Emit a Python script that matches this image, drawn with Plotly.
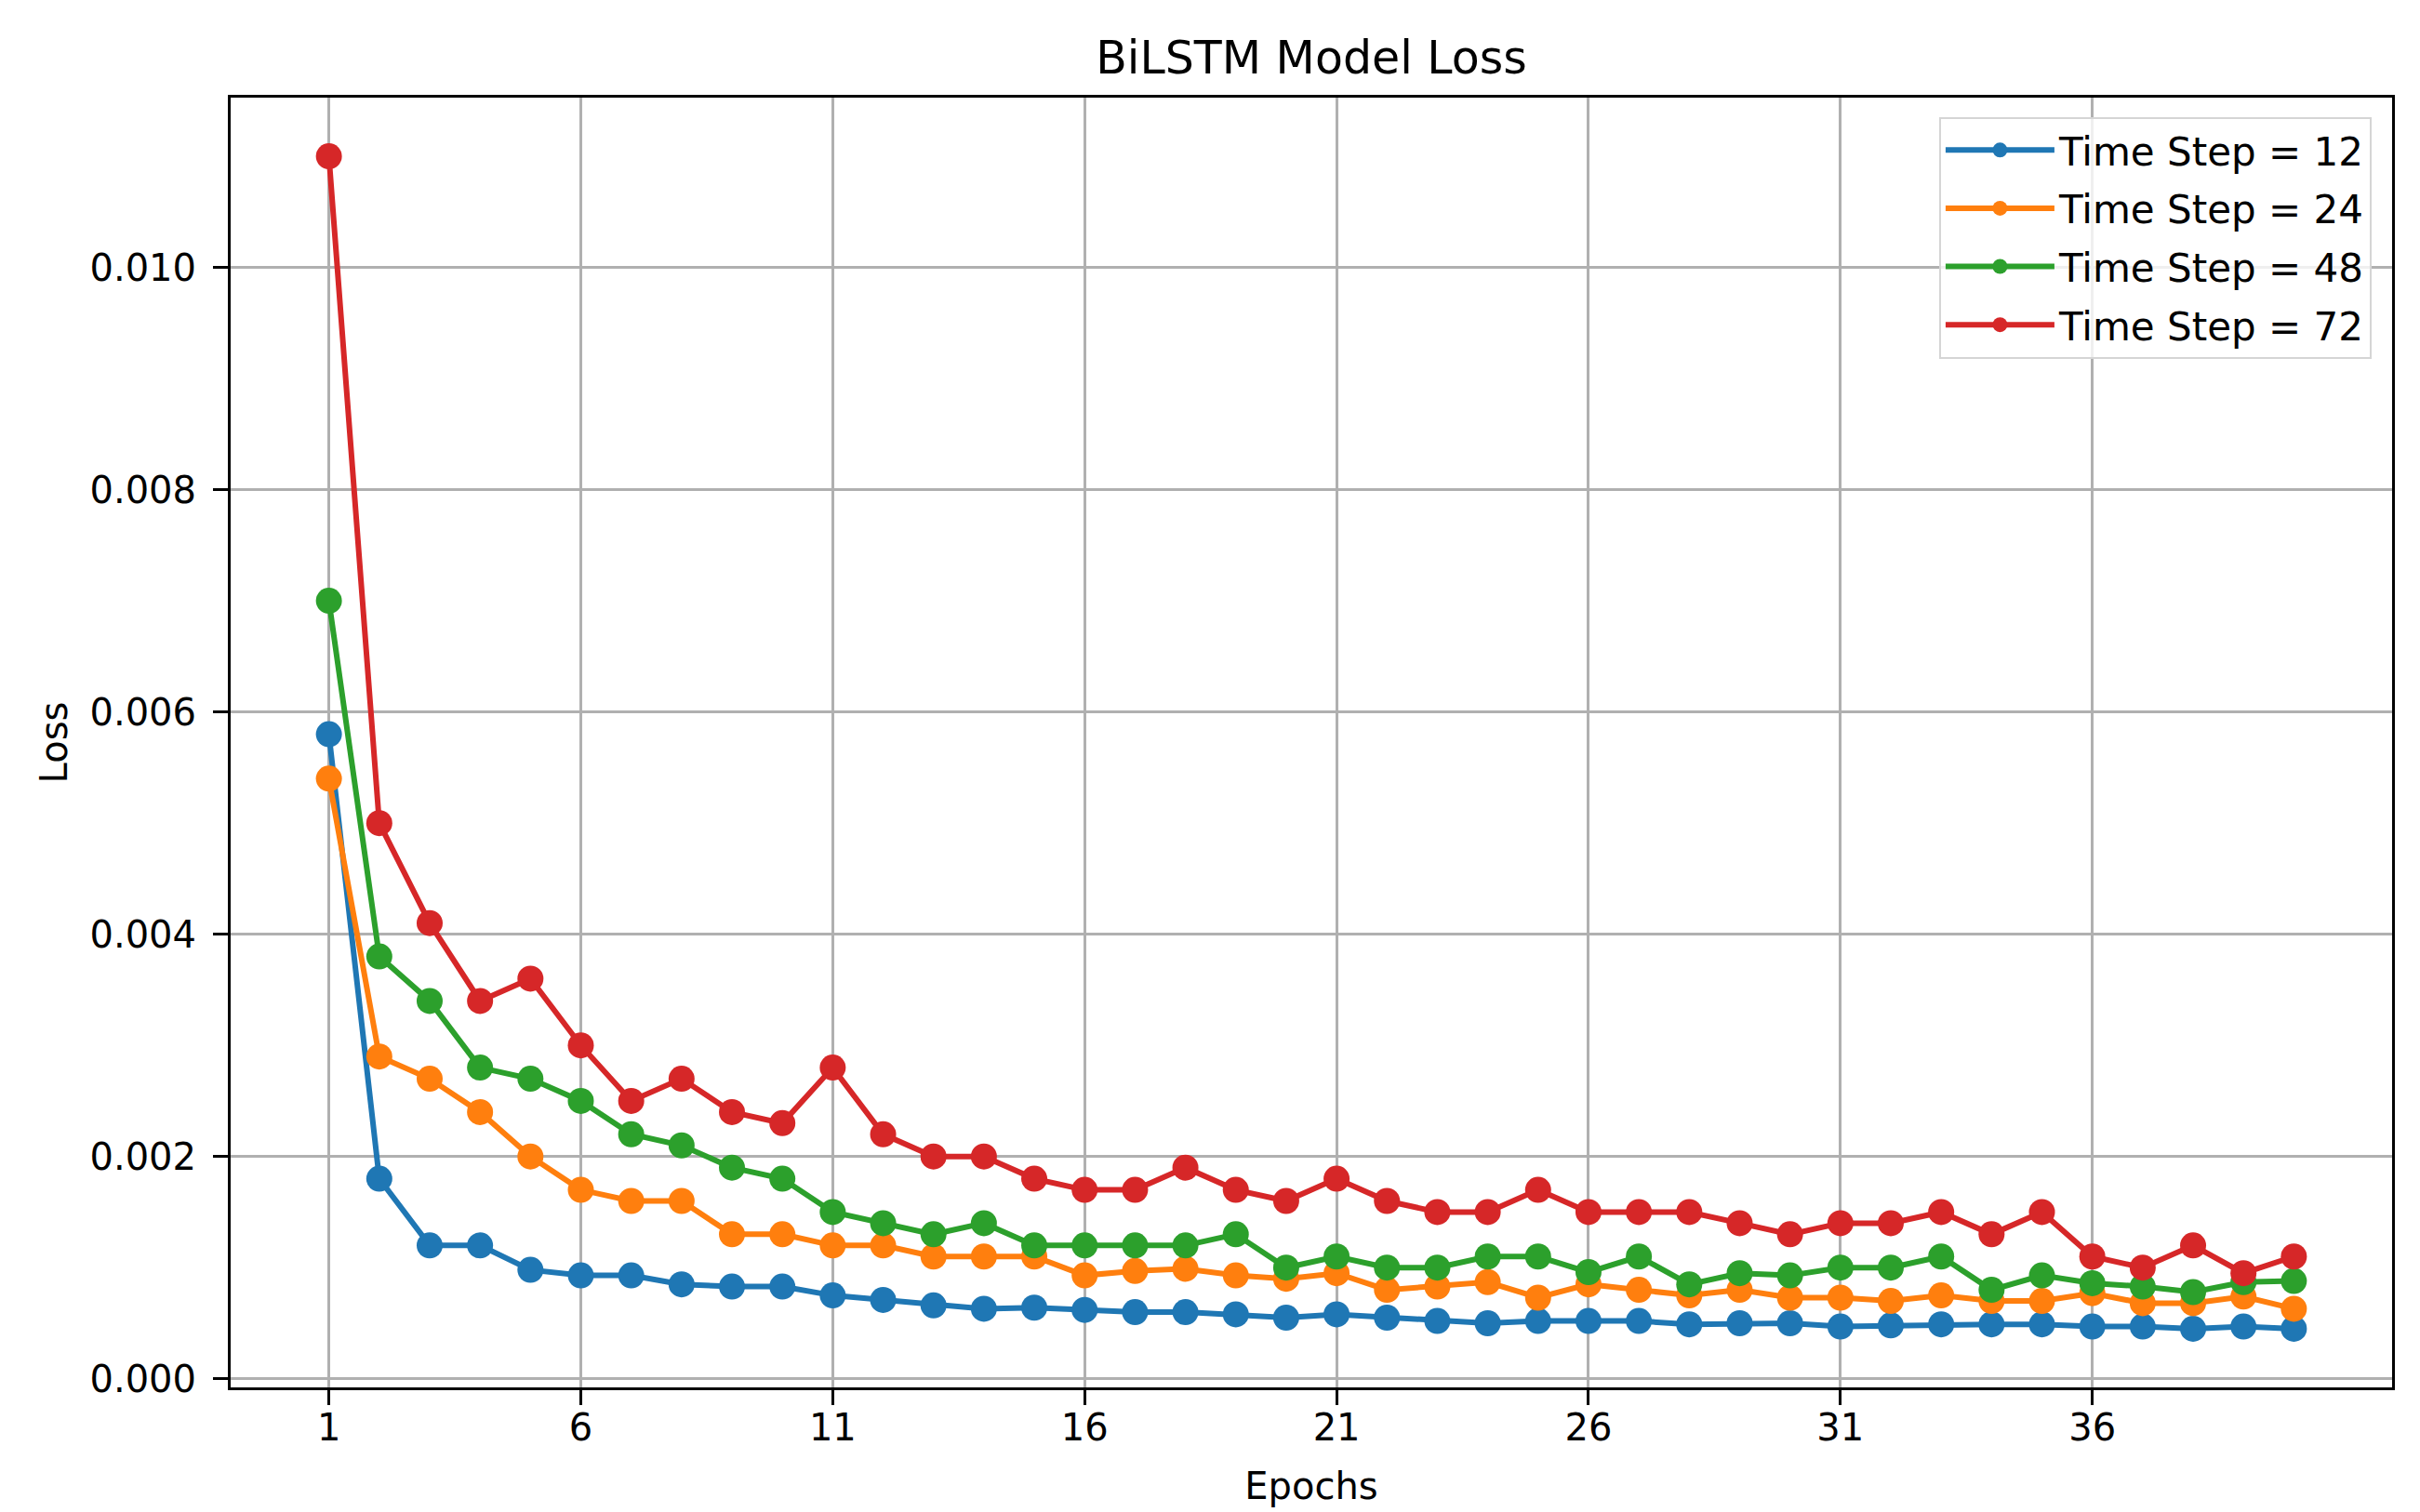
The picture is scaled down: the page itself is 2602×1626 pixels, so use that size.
import plotly.graph_objects as go

epochs = list(range(1, 41))

loss_ts12 = [0.0058, 0.0018, 0.0012, 0.0012, 0.00098, 0.00093, 0.00093, 0.00085, 0.00083, 0.00083,
             0.00075, 0.00071, 0.00066, 0.00063, 0.00064, 0.00062, 0.0006, 0.0006, 0.00058, 0.00055,
             0.00058, 0.00055, 0.00052, 0.0005, 0.00052, 0.00052, 0.00052, 0.00049, 0.0005, 0.0005,
             0.00047, 0.00048, 0.00049, 0.00049, 0.00049, 0.00047, 0.00047, 0.00045, 0.00047, 0.00045]
loss_ts24 = [0.0054, 0.0029, 0.0027, 0.0024, 0.0020, 0.0017, 0.0016, 0.0016, 0.0013, 0.0013,
             0.0012, 0.0012, 0.0011, 0.0011, 0.0011, 0.00093, 0.00097, 0.00099, 0.00093, 0.0009,
             0.00095, 0.0008, 0.00083, 0.00087, 0.00073, 0.00085, 0.0008, 0.00075, 0.0008, 0.00073,
             0.00073, 0.0007, 0.00075, 0.0007, 0.0007, 0.00077, 0.00068, 0.00068, 0.00074, 0.00063]
loss_ts48 = [0.0070, 0.0038, 0.0034, 0.0028, 0.0027, 0.0025, 0.0022, 0.0021, 0.0019, 0.0018,
             0.0015, 0.0014, 0.0013, 0.0014, 0.0012, 0.0012, 0.0012, 0.0012, 0.0013, 0.0010,
             0.0011, 0.0010, 0.0010, 0.0011, 0.0011, 0.00096, 0.0011, 0.00085, 0.00095, 0.00093,
             0.0010, 0.0010, 0.0011, 0.0008, 0.00093, 0.00086, 0.00083, 0.00078, 0.00087, 0.00088]
loss_ts72 = [0.0110, 0.0050, 0.0041, 0.0034, 0.0036, 0.0030, 0.0025, 0.0027, 0.0024, 0.0023,
             0.0028, 0.0022, 0.0020, 0.0020, 0.0018, 0.0017, 0.0017, 0.0019, 0.0017, 0.0016,
             0.0018, 0.0016, 0.0015, 0.0015, 0.0017, 0.0015, 0.0015, 0.0015, 0.0014, 0.0013,
             0.0014, 0.0014, 0.0015, 0.0013, 0.0015, 0.0011, 0.0010, 0.0012, 0.00095, 0.0011]

series_names = ["Time Step = 12", "Time Step = 24", "Time Step = 48", "Time Step = 72"]
series_values = [loss_ts12, loss_ts24, loss_ts48, loss_ts72]
series_colors = ["#1f77b4", "#ff7f0e", "#2ca02c", "#d62728"]

x_ticks = [1, 6, 11, 16, 21, 26, 31, 36]
y_ticks = [0.0, 0.002, 0.004, 0.006, 0.008, 0.010]

FONT = "DejaVu Sans"

fig = go.Figure()
for i, (name, vals, col) in enumerate(zip(series_names, series_values, series_colors)):
    fig.add_trace(go.Scatter(
        x=epochs, y=vals, name=name, mode="lines+markers",
        line=dict(color=col, width=6),
        marker=dict(color=col, size=28),
        legendgroup=f"g{i}",
    ))

xmin, xmax = min(epochs), max(epochs)
xpad = 0.05 * (xmax - xmin)
allv = [v for s in series_values for v in s]
ymin, ymax = min(allv), max(allv)
ypad = 0.05 * (ymax - ymin)

axis_common = dict(
    showgrid=True, gridcolor="#b0b0b0", gridwidth=2.7,
    showline=True, linecolor="black", linewidth=3, mirror=True,
    ticks="outside", ticklen=16, tickwidth=3, tickcolor="black",
    zeroline=False,
    tickfont=dict(family=FONT, size=40, color="black"),
)

fig.update_layout(
    width=2602, height=1626,
    paper_bgcolor="white", plot_bgcolor="white",
    margin=dict(l=240, r=38, t=97, b=142),
    font=dict(family=FONT, color="black"),
    title=dict(text="BiLSTM Model Loss", x=0.5, xref="paper", xanchor="center",
               y=1 - 53.5 / 1626, yanchor="middle",
               font=dict(family=FONT, size=49, color="black")),
    xaxis=dict(range=[xmin - xpad, xmax + xpad], tickvals=x_ticks,
               ticklabelstandoff=-10,
               title=dict(text="Epochs", font=dict(family=FONT, size=40), standoff=27),
               **axis_common),
    yaxis=dict(range=[ymin - ypad, ymax + ypad], tickvals=y_ticks, tickformat=".3f",
               ticklabelstandoff=10,
               title=dict(text="Loss", font=dict(family=FONT, size=40), standoff=12),
               **axis_common),
    legend=dict(x=0.9905, y=0.9852, xanchor="right", yanchor="top",
                bgcolor="rgba(255,255,255,0.8)", bordercolor="#d5d5d5", borderwidth=2,
                font=dict(family=FONT, size=42, color="black"),
                tracegroupgap=5, itemwidth=117),
    showlegend=True,
)

fig.write_html("out.html")
